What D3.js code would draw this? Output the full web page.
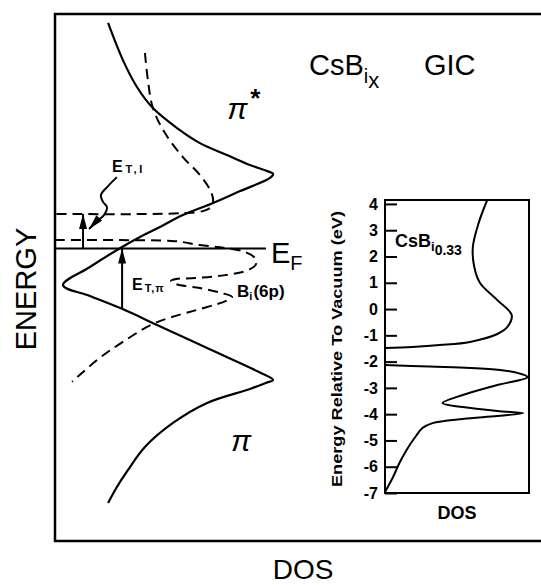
<!DOCTYPE html>
<html><head><meta charset="utf-8">
<script src="https://cdn.jsdelivr.net/npm/d3@7"></script>
<style>
body{margin:0;background:#fff}
svg{display:block}
text{font-family:"Liberation Sans",Arial,Helvetica,sans-serif;fill:#000}
</style>
</head><body>
<svg id="c" width="541" height="585"></svg>
<script>
// ---------- main schematic (DOS arb. units, energy arb. units with E_F = 0) ----------
// solid graphite pi / pi* DOS
const piDOS = [1.93,2.47,2.98,3.56,4.44,5.27,6.25,7.09,7.71,7.93,7.82,6.73,5.75,4.65,3.82,3.09,2.44,1.27,0.29,1.27,2.44,3.71,5.53,7.42,7.93,7.67,7.09,5.53,4.29,3.27,2.65,2.25,1.93];
const piE   = [8.56,7.15,6.13,5.33,4.57,4.00,3.55,3.17,2.94,2.83,2.68,2.18,1.73,1.27,0.82,0.44,0.06,-0.70,-1.39,-1.80,-2.29,-2.90,-3.78,-4.69,-4.99,-5.10,-5.33,-5.86,-6.62,-7.53,-8.41,-9.05,-9.66];
// dashed intercalant band (upper, with E_T,I level)
const intDOS = [3.27,3.38,3.56,4.00,4.65,5.27,5.64,5.75,5.67,5.38,4.73,3.45,0];
const intE   = [7.42,6.38,5.33,4.38,3.47,2.79,2.22,1.84,1.57,1.42,1.35,1.31,1.31];
// dashed Bi(6p) band
const biDOS = [0,2.36,4.36,5.27,6.18,6.91,7.27,7.31,7.02,6.18,5.09,4.40,4.22,4.40,5.27,6.07,6.44,6.22,5.53,3.64,2.40,1.53,0.62];
const biE   = [0.32,0.32,0.28,0.13,0.02,-0.13,-0.36,-0.59,-0.82,-1.01,-1.12,-1.16,-1.23,-1.35,-1.50,-1.69,-1.84,-1.99,-2.22,-2.83,-3.59,-4.23,-5.06];
// Fermi level line extent
const efDOS = [0, 7.67];
const efE = [0, 0];
// threshold arrows
const etiDOS = [1.02, 1.02];
const etiE = [0, 1.31];
const etpDOS = [2.44, 2.44];
const etpE = [-2.29, 0];
// wavy pointer from the E_T,I label
const ptrDOS = [2.25,1.93,1.67,1.75,1.89,1.78,1.49,1.24];
const ptrE   = [2.71,2.37,2.03,1.76,1.57,1.27,1.01,0.74];

// ---------- inset: CsBi0.33 calculated DOS ----------
const insetTicks = [4,3,2,1,0,-1,-2,-3,-4,-5,-6,-7];
const upE = [4.15,3.27,2.36,1.60,0.99,0.34,-0.23,-0.68,-0.95,-1.25,-1.37,-1.44,-1.48];
const upD = [0.71,0.65,0.61,0.62,0.66,0.78,0.88,0.85,0.78,0.59,0.38,0.19,0];
const loE = [-2.13,-2.19,-2.24,-2.32,-2.43,-2.59,-2.89,-3.27,-3.58,-3.73,-3.88,-3.96,-4.07,-4.18,-4.34,-4.53,-4.87,-5.36,-5.86,-6.39,-6.96];
const loD = [0,0.31,0.59,0.80,0.92,0.99,0.78,0.54,0.40,0.54,0.78,0.96,0.78,0.54,0.33,0.26,0.21,0.15,0.10,0.056,0];

const svg = d3.select("#c");
const x = d3.scaleLinear().domain([0,10]).range([55,330]);
const y = d3.scaleLinear().domain([-11.1,8.9]).range([541,14]);
const xi = d3.scaleLinear().domain([0,1]).range([385,529]);
const yi = d3.scaleLinear().domain([-7,4.15]).range([493,200]);

const defs = svg.append("defs");
defs.append("marker").attr("id","ah").attr("viewBox","0 0 10 10")
  .attr("refX",10).attr("refY",5).attr("markerWidth",15).attr("markerHeight",8)
  .attr("markerUnits","userSpaceOnUse").attr("orient","auto").attr("preserveAspectRatio","none")
  .append("path").attr("d","M0,0L10,5L0,10Z").attr("fill","#000");

// outer frame
svg.append("rect").attr("x",x(0)).attr("y",y(8.9)).attr("width",520).attr("height",y(-11.1)-y(8.9))
  .attr("fill","none").attr("stroke","#000").attr("stroke-width",2.5);

const smooth = d3.line().x(d=>x(d[0])).y(d=>y(d[1])).curve(d3.curveCatmullRom.alpha(0.5));
const straight = d3.line().x(d=>x(d[0])).y(d=>y(d[1]));

svg.append("path").attr("d",smooth(d3.zip(piDOS,piE))).attr("fill","none").attr("stroke","#000").attr("stroke-width",2.2);
svg.append("path").attr("d",smooth(d3.zip(intDOS,intE))).attr("fill","none").attr("stroke","#000").attr("stroke-width",2).attr("stroke-dasharray","10,6");
svg.append("path").attr("d",smooth(d3.zip(biDOS,biE))).attr("fill","none").attr("stroke","#000").attr("stroke-width",2).attr("stroke-dasharray","10,6");
svg.append("path").attr("d",straight(d3.zip(efDOS,efE))).attr("fill","none").attr("stroke","#000").attr("stroke-width",2.2);
svg.append("path").attr("d",straight(d3.zip(etiDOS,etiE))).attr("stroke","#000").attr("stroke-width",2).attr("marker-end","url(#ah)");
svg.append("path").attr("d",straight(d3.zip(etpDOS,etpE))).attr("stroke","#000").attr("stroke-width",2).attr("marker-end","url(#ah)");
svg.append("path").attr("d",smooth(d3.zip(ptrDOS,ptrE))).attr("fill","none").attr("stroke","#000").attr("stroke-width",2).attr("marker-end","url(#ah)");

// main labels
const t1 = svg.append("text").attr("x",309).attr("y",75).attr("font-size",29);
t1.append("tspan").text("CsB");
t1.append("tspan").attr("font-size",20).attr("dy",8).text("i");
t1.append("tspan").attr("font-size",22).attr("dy",5).text("x");
svg.append("text").attr("x",424).attr("y",75).attr("font-size",29).text("GIC");

const pis = svg.append("text").attr("x",x(6.26)).attr("y",y(4.9)).attr("font-size",30).attr("font-style","italic").attr("font-family","DejaVu Sans");
pis.append("tspan").text("π");
pis.append("tspan").attr("font-size",26).attr("font-weight","bold").attr("dy",-12).attr("dx",2).text("*");
svg.append("text").attr("x",x(6.4)).attr("y",y(-7.7)).attr("font-size",30).attr("font-style","italic").attr("font-family","DejaVu Sans").text("π");

const ef = svg.append("text").attr("x",x(7.85)).attr("y",y(-0.55)).attr("font-size",29);
ef.append("tspan").text("E");
ef.append("tspan").attr("font-size",20).attr("dy",7).text("F");

const eti = svg.append("text").attr("x",x(2.07)).attr("y",y(2.9)).attr("font-size",16).attr("font-weight","bold");
eti.append("tspan").text("E");
eti.append("tspan").attr("font-size",11).attr("dx",3).attr("dy",1).attr("letter-spacing",2.5).text("T,I");

const etp = svg.append("text").attr("x",x(2.8)).attr("y",y(-1.58)).attr("font-size",16).attr("font-weight","bold");
etp.append("tspan").text("E");
etp.append("tspan").attr("font-size",11).attr("dx",2).attr("dy",2).attr("letter-spacing",1).text("T,π");

const bi = svg.append("text").attr("x",x(6.62)).attr("y",y(-1.85)).attr("font-size",17).attr("font-weight","bold");
bi.append("tspan").text("B");
bi.append("tspan").attr("font-size",11).attr("dy",3).text("i");
bi.append("tspan").attr("dy",-3).attr("dx",1).text("(6p)");

svg.append("text").attr("transform","translate(36,289) rotate(-90)").attr("text-anchor","middle").attr("font-size",29).text("ENERGY");
svg.append("text").attr("x",303).attr("y",579).attr("text-anchor","middle").attr("font-size",28).text("DOS");

// ---------- inset ----------
const ig = svg.append("g");
ig.append("rect").attr("x",xi(0)).attr("y",yi(4.15)).attr("width",xi(1)-xi(0)).attr("height",yi(-7)-yi(4.15))
  .attr("fill","none").attr("stroke","#000").attr("stroke-width",2);
const ax = ig.append("g").attr("transform",`translate(${xi(0)},0)`)
  .call(d3.axisLeft(yi).tickValues(insetTicks).tickFormat(d=>String(d)).tickSizeInner(-12).tickSizeOuter(0).tickPadding(7));
ax.select(".domain").remove();
ax.selectAll("line").attr("stroke","#000").attr("stroke-width",2);
ax.selectAll("text").attr("font-size",16).attr("font-weight","bold").attr("font-family","Liberation Sans, Arial, sans-serif");

const iline = d3.line().x(d=>xi(d[0])).y(d=>yi(d[1])).curve(d3.curveCatmullRom.alpha(0.5));
ig.append("path").attr("d",iline(d3.zip(upD,upE))).attr("fill","none").attr("stroke","#000").attr("stroke-width",2);
ig.append("path").attr("d",iline(d3.zip(loD,loE))).attr("fill","none").attr("stroke","#000").attr("stroke-width",2);

const cl = ig.append("text").attr("x",395).attr("y",247).attr("font-size",18).attr("font-weight","bold");
cl.append("tspan").text("CsB");
cl.append("tspan").attr("font-size",13).attr("dy",4).text("i");
cl.append("tspan").attr("font-size",14).attr("dy",4).text("0.33");

ig.append("text").attr("x",(xi(0)+xi(1))/2).attr("y",519).attr("text-anchor","middle").attr("font-size",18).attr("font-weight","bold").text("DOS");
ig.append("text").attr("transform","translate(342,349) rotate(-90)").attr("text-anchor","middle")
  .attr("font-size",15).attr("font-weight","bold").attr("textLength",276).attr("lengthAdjust","spacingAndGlyphs")
  .text("Energy Relative To Vacuum (eV)");
</script>
</body></html>
